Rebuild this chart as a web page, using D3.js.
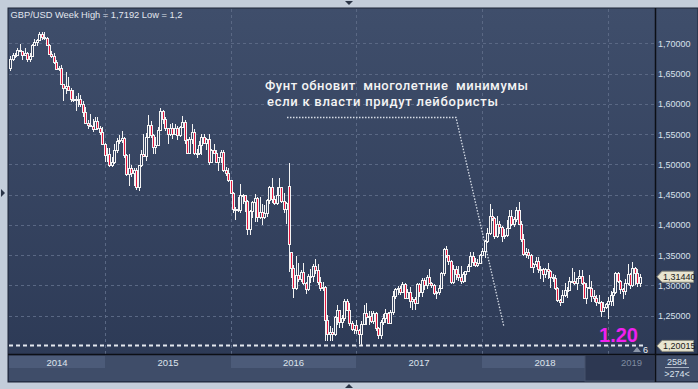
<!DOCTYPE html>
<html>
<head>
<meta charset="utf-8">
<script src="https://cdn.jsdelivr.net/npm/d3@7"></script>
<style>
  body { margin: 0; background: #c3cdda; }
  svg { display: block; }
</style>
</head>
<body>
<div id="chart"></div>
<script>
// GBP/USD weekly candles, Apr 2014 .. Apr 2019
const title = "GBP/USD Week High = 1,7192 Low = 1,2";
const firstWeek = new Date(2014, 3, 7);

const open = [
  1.6585,1.6745,1.6805,1.6810,1.6885,1.6865,1.6800,1.6835,1.6740,1.6795,
  1.6970,1.7015,1.7050,1.7155,1.7105,1.7090,1.6980,1.6830,1.6795,1.6695,
  1.6570,1.6595,1.6330,1.6265,1.6295,1.6225,1.6075,1.6085,1.6080,1.6085,
  1.5990,1.5865,1.5680,1.5655,1.5640,1.5580,1.5710,1.5600,1.5535,1.5335,
  1.5160,1.5165,1.4995,1.5035,1.5235,1.5390,1.5395,1.5435,1.5150,1.4845,
  1.4945,1.4860,1.4900,1.4620,1.4985,1.5170,1.5135,1.5460,1.5655,1.5490,
  1.5285,1.5325,1.5575,1.5885,1.5745,1.5595,1.5510,1.5595,1.5510,1.5605,
  1.5490,1.5620,1.5700,1.5410,1.5190,1.5425,1.5530,1.5195,1.5185,1.5315,
  1.5460,1.5345,1.5425,1.5040,1.5240,1.5190,1.5035,1.5115,1.5210,1.4900,
  1.4865,1.4735,1.4535,1.4255,1.4265,1.4250,1.4500,1.4495,1.4400,1.3925,
  1.4230,1.4375,1.4445,1.4125,1.4220,1.4135,1.4200,1.4410,1.4620,1.4425,
  1.4365,1.4500,1.4620,1.4400,1.4260,1.4650,1.3560,1.3295,1.2950,1.3165,
  1.3110,1.3230,1.3040,1.2945,1.3160,1.3155,1.3315,1.3260,1.3055,1.2955,
  1.2970,1.2430,1.2190,1.2235,1.2190,1.2480,1.2590,1.2390,1.2470,1.2745,
  1.2600,1.2375,1.2285,1.2345,1.2270,1.2190,1.2370,1.2550,1.2480,1.2490,
  1.2410,1.2545,1.2295,1.2180,1.2400,1.2470,1.2550,1.2385,1.2555,1.2825,
  1.2940,1.2960,1.2885,1.3030,1.2795,1.2885,1.2745,1.2780,1.2715,1.3030,
  1.2885,1.3095,1.3000,1.3135,1.3040,1.3010,1.2875,1.2885,1.2955,1.3205,
  1.3600,1.3500,1.3400,1.3065,1.3280,1.3185,1.3135,1.3080,1.3190,1.3235,
  1.3325,1.3480,1.3385,1.3340,1.3370,1.3505,1.3570,1.3740,1.3860,1.4155,
  1.4115,1.3820,1.4015,1.3965,1.3815,1.3830,1.3955,1.4140,1.4010,1.4090,
  1.4240,1.4010,1.3770,1.3525,1.3560,1.3505,1.3310,1.3355,1.3410,1.3270,
  1.3280,1.3190,1.3280,1.3235,1.3140,1.3115,1.2960,1.2760,1.2730,1.2840,
  1.2920,1.2930,1.3070,1.3075,1.3035,1.3120,1.3155,1.3045,1.2800,1.2975,
  1.2965,1.2820,1.2795,1.2725,1.2735,1.2585,1.2640,1.2690,1.2740,1.2840,
  1.2885,1.3200,1.3075,1.2940,1.2905,1.3045,1.3190,1.3010,1.3290,1.3200,
  1.3035
];

const high = [
  1.6790,1.6840,1.6845,1.6925,1.6996,1.6880,1.6925,1.6860,1.6840,1.6990,
  1.7065,1.7065,1.7180,1.7179,1.7192,1.7105,1.6990,1.6875,1.6835,1.6720,
  1.6630,1.6645,1.6335,1.6525,1.6440,1.6260,1.6225,1.6125,1.6185,1.6150,
  1.6050,1.5940,1.5740,1.5825,1.5745,1.5785,1.5785,1.5630,1.5620,1.5350,
  1.5270,1.5270,1.5115,1.5330,1.5430,1.5490,1.5550,1.5450,1.5175,1.5165,
  1.4990,1.4945,1.4945,1.4990,1.5235,1.5500,1.5520,1.5815,1.5710,1.5500,
  1.5445,1.5610,1.5930,1.5900,1.5790,1.5600,1.5675,1.5690,1.5675,1.5635,
  1.5635,1.5805,1.5735,1.5420,1.5450,1.5660,1.5590,1.5260,1.5385,1.5510,
  1.5510,1.5440,1.5510,1.5255,1.5335,1.5240,1.5130,1.5240,1.5240,1.4955,
  1.4945,1.4750,1.4540,1.4300,1.4460,1.4670,1.4510,1.4500,1.4410,1.4240,
  1.4400,1.4515,1.4460,1.4460,1.4350,1.4325,1.4435,1.4635,1.4770,1.4485,
  1.4630,1.4770,1.4630,1.4530,1.4375,1.5018,1.3560,1.3340,1.3480,1.3370,
  1.3260,1.3370,1.3060,1.3185,1.3275,1.3350,1.3445,1.3355,1.3140,1.3060,
  1.2985,1.2505,1.2330,1.2300,1.2495,1.2670,1.2600,1.2515,1.2775,1.2775,
  1.2705,1.2405,1.2335,1.2430,1.2285,1.2415,1.2675,1.2705,1.2580,1.2580,
  1.2570,1.2555,1.2310,1.2430,1.2525,1.2615,1.2555,1.2590,1.2905,1.2950,
  1.2990,1.2990,1.3050,1.3045,1.2940,1.2975,1.2815,1.2815,1.3035,1.3045,
  1.3115,1.3125,1.3165,1.3265,1.3055,1.3030,1.2905,1.3000,1.3215,1.3615,
  1.3655,1.3505,1.3420,1.3340,1.3320,1.3325,1.3320,1.3225,1.3245,1.3355,
  1.3550,1.3550,1.3460,1.3435,1.3525,1.3615,1.3745,1.3945,1.4345,1.4260,
  1.4130,1.4145,1.4070,1.3990,1.3930,1.4085,1.4245,1.4245,1.4135,1.4290,
  1.4377,1.4060,1.3845,1.3620,1.3610,1.3515,1.3365,1.3475,1.3475,1.3315,
  1.3295,1.3290,1.3365,1.3260,1.3185,1.3175,1.2980,1.2770,1.2930,1.3045,
  1.2975,1.3145,1.3295,1.3215,1.3125,1.3255,1.3260,1.3050,1.3045,1.3175,
  1.3075,1.2930,1.2835,1.2840,1.2740,1.2720,1.2705,1.2815,1.2915,1.2955,
  1.3215,1.3215,1.3085,1.2960,1.3110,1.3350,1.3210,1.3380,1.3305,1.3265,
  1.3195
];

const low = [
  1.6545,1.6700,1.6750,1.6790,1.6850,1.6725,1.6790,1.6695,1.6695,1.6770,
  1.6950,1.6960,1.7040,1.7060,1.7050,1.6955,1.6810,1.6760,1.6655,1.6560,
  1.6550,1.6325,1.6050,1.6160,1.6220,1.6030,1.6035,1.5875,1.5945,1.5950,
  1.5790,1.5665,1.5590,1.5625,1.5540,1.5560,1.5560,1.5485,1.5320,1.5035,
  1.5035,1.4950,1.4950,1.5010,1.5190,1.5335,1.5350,1.5100,1.4805,1.4635,
  1.4795,1.4635,1.4580,1.4565,1.4950,1.5130,1.5060,1.5440,1.5440,1.5170,
  1.5170,1.5310,1.5560,1.5670,1.5550,1.5330,1.5470,1.5420,1.5505,1.5410,
  1.5455,1.5600,1.5330,1.5165,1.5170,1.5330,1.5160,1.5110,1.5150,1.5160,
  1.5330,1.5240,1.4995,1.5030,1.5170,1.5030,1.4895,1.5025,1.4880,1.4805,
  1.4710,1.4505,1.4200,1.4080,1.4210,1.4190,1.4350,1.4220,1.3835,1.3840,
  1.4110,1.4055,1.4055,1.4095,1.4005,1.4095,1.4130,1.4350,1.4365,1.4330,
  1.4330,1.4470,1.4355,1.4195,1.4010,1.3229,1.3122,1.2798,1.2930,1.3055,
  1.3065,1.3005,1.2865,1.2915,1.3045,1.3055,1.3185,1.3000,1.2915,1.2915,
  1.2085,1.2090,1.2080,1.2080,1.2170,1.2345,1.2300,1.2300,1.2420,1.2580,
  1.2335,1.2250,1.2200,1.2200,1.2035,1.2002,1.2365,1.2345,1.2350,1.2385,
  1.2365,1.2250,1.2110,1.2110,1.2345,1.2375,1.2365,1.2365,1.2515,1.2775,
  1.2845,1.2845,1.2870,1.2775,1.2770,1.2635,1.2590,1.2590,1.2705,1.2810,
  1.2810,1.2930,1.2935,1.3025,1.2955,1.2835,1.2775,1.2850,1.2940,1.3150,
  1.3450,1.3335,1.3030,1.3025,1.3085,1.3080,1.3025,1.3040,1.3065,1.3215,
  1.3320,1.3320,1.3300,1.3305,1.3360,1.3490,1.3455,1.3705,1.3840,1.4070,
  1.3765,1.3780,1.3855,1.3710,1.3770,1.3805,1.3925,1.3980,1.3960,1.4055,
  1.4000,1.3710,1.3490,1.3450,1.3445,1.3305,1.3205,1.3305,1.3210,1.3100,
  1.3050,1.3125,1.3100,1.2955,1.3055,1.2920,1.2725,1.2660,1.2725,1.2815,
  1.2785,1.2925,1.3045,1.3010,1.2920,1.3100,1.3010,1.2775,1.2695,1.2935,
  1.2725,1.2725,1.2660,1.2705,1.2475,1.2575,1.2615,1.2438,1.2665,1.2665,
  1.2865,1.3035,1.2855,1.2775,1.2850,1.3005,1.2945,1.2970,1.3000,1.2980,
  1.2980
];

const close = [
  1.6745,1.6805,1.6810,1.6885,1.6865,1.6800,1.6835,1.6740,1.6795,1.6970,
  1.7015,1.7050,1.7155,1.7105,1.7090,1.6980,1.6830,1.6795,1.6695,1.6570,
  1.6595,1.6330,1.6265,1.6295,1.6225,1.6075,1.6085,1.6080,1.6085,1.5990,
  1.5865,1.5680,1.5655,1.5640,1.5580,1.5710,1.5600,1.5535,1.5335,1.5160,
  1.5165,1.4995,1.5035,1.5235,1.5390,1.5395,1.5435,1.5150,1.4845,1.4945,
  1.4860,1.4900,1.4620,1.4985,1.5170,1.5135,1.5460,1.5655,1.5490,1.5285,
  1.5325,1.5575,1.5885,1.5745,1.5595,1.5510,1.5595,1.5510,1.5605,1.5490,
  1.5620,1.5700,1.5410,1.5190,1.5425,1.5530,1.5195,1.5185,1.5315,1.5460,
  1.5345,1.5425,1.5040,1.5240,1.5190,1.5035,1.5115,1.5210,1.4900,1.4865,
  1.4735,1.4535,1.4255,1.4265,1.4250,1.4500,1.4495,1.4400,1.3925,1.4230,
  1.4375,1.4445,1.4125,1.4220,1.4135,1.4200,1.4410,1.4620,1.4425,1.4365,
  1.4500,1.4620,1.4400,1.4260,1.4360,1.3679,1.3295,1.2950,1.3165,1.3110,
  1.3230,1.3040,1.2945,1.3160,1.3155,1.3315,1.3260,1.3055,1.2955,1.2970,
  1.2430,1.2190,1.2235,1.2190,1.2480,1.2590,1.2390,1.2470,1.2745,1.2600,
  1.2375,1.2285,1.2345,1.2270,1.2190,1.2370,1.2550,1.2480,1.2490,1.2410,
  1.2545,1.2295,1.2180,1.2400,1.2470,1.2550,1.2385,1.2555,1.2825,1.2940,
  1.2960,1.2885,1.3030,1.2795,1.2885,1.2745,1.2780,1.2715,1.3030,1.2885,
  1.3095,1.3000,1.3135,1.3040,1.3010,1.2875,1.2885,1.2955,1.3205,1.3600,
  1.3500,1.3400,1.3065,1.3280,1.3185,1.3135,1.3080,1.3190,1.3235,1.3325,
  1.3480,1.3385,1.3340,1.3370,1.3505,1.3570,1.3740,1.3860,1.4155,1.4115,
  1.3820,1.4015,1.3965,1.3815,1.3830,1.3955,1.4140,1.4010,1.4090,1.4240,
  1.4010,1.3770,1.3525,1.3560,1.3505,1.3310,1.3355,1.3410,1.3270,1.3280,
  1.3190,1.3280,1.3235,1.3140,1.3115,1.2960,1.2760,1.2730,1.2840,1.2920,
  1.2930,1.3070,1.3075,1.3035,1.3120,1.3155,1.3045,1.2800,1.2975,1.2965,
  1.2820,1.2795,1.2725,1.2735,1.2585,1.2640,1.2690,1.2740,1.2840,1.2885,
  1.3200,1.3075,1.2940,1.2905,1.3045,1.3190,1.3010,1.3290,1.3200,1.3035,
  1.3144
];

const yTicks = [1.25, 1.30, 1.35, 1.40, 1.45, 1.50, 1.55, 1.60, 1.65, 1.70];
const lastPrice = 1.3144;
const lowLevel = 1.20015;
const lowLabel = "1.20";
const note = ["Фунт обновит  многолетние  минимумы", "если к власти придут лейбористы"];
const barsInfo = ["2584", ">274<"];

const W = 698, H = 389;
const plot = { left: 9, right: 655, top: 9, bottom: 354 };

const weeks = open.map((d, i) => d3.timeMonday.offset(firstWeek, i));
const candles = weeks.map((d, i) => ({ date: d, o: open[i], h: high[i], l: low[i], c: close[i] }));

const svg = d3.select("#chart").append("svg")
    .attr("width", W)
    .attr("height", H)
    .attr("font-family", "'Liberation Sans', Arial, sans-serif");

const defs = svg.append("defs");
const grad = defs.append("linearGradient").attr("id", "bg").attr("x1", 0).attr("x2", 0).attr("y1", 0).attr("y2", 1);
grad.append("stop").attr("offset", "0%").attr("stop-color", "#3f4e6b");
grad.append("stop").attr("offset", "100%").attr("stop-color", "#2c3955");

// frame + panels
svg.append("rect").attr("x", 8).attr("y", 8).attr("width", W - 8).attr("height", 374)
    .attr("fill", "url(#bg)").attr("stroke", "#1c2536");
svg.append("rect").attr("x", 9).attr("y", 355).attr("width", W - 9).attr("height", 26)
    .attr("fill", "#3f4d69");

// scales
const x = d3.scaleBand()
    .domain(weeks)
    .range([plot.left, plot.left + weeks.length * 2.421]);
const cx = d => x(d) + x.bandwidth() / 2;

const y = d3.scaleLinear()
    .domain([1.2, 1.7])
    .range([346, 43.3]);

// year boundaries: first week whose Wednesday falls in a new year
const yearStarts = weeks.filter((d, i) => i > 0 &&
    d3.timeDay.offset(d, 2).getFullYear() !== d3.timeDay.offset(weeks[i - 1], 2).getFullYear());
const edges = [plot.left, ...yearStarts.map(d => Math.round(cx(d))), plot.right];
const years = d3.range(edges.length - 1).map(i => String(weeks[0].getFullYear() + i));

// year bands on the time axis
const axisG = svg.append("g");
years.forEach((yr, i) => {
  if (i % 2 === 0 && i < years.length - 1) {
    const x1 = i === 4 ? 585 : edges[i + 1];
    axisG.append("rect").attr("x", edges[i]).attr("y", 356).attr("width", x1 - edges[i]).attr("height", 12)
        .attr("fill", "#4c5b79");
  }
});
axisG.append("rect").attr("x", 585).attr("y", 355).attr("width", plot.right - 585).attr("height", 26)
    .attr("fill", "#2d3852").attr("stroke", "#46536c");
axisG.selectAll("text.year")
  .data(years)
  .join("text")
    .attr("class", "year")
    .attr("x", (d, i) => (edges[i] + edges[i + 1]) / 2)
    .attr("y", 365.5)
    .attr("text-anchor", "middle")
    .attr("font-size", "9.5px")
    .attr("fill", (d, i) => i === years.length - 1 ? "#7f8ba0" : "#dde3ec")
    .text(d => d);

// grid
const grid = svg.append("g")
    .attr("stroke", "#5a6884")
    .attr("stroke-dasharray", "3,3")
    .attr("shape-rendering", "crispEdges");
grid.selectAll("line.h")
  .data(yTicks)
  .join("line")
    .attr("class", "h")
    .attr("x1", plot.left).attr("x2", plot.right)
    .attr("y1", d => Math.round(y(d)) + 0.5).attr("y2", d => Math.round(y(d)) + 0.5);
grid.selectAll("line.v")
  .data(edges.slice(1, -1))
  .join("line")
    .attr("class", "v")
    .attr("x1", d => d + 0.5).attr("x2", d => d + 0.5)
    .attr("y1", plot.top).attr("y2", plot.bottom);

// low level dashed line
svg.append("line")
    .attr("x1", plot.left).attr("x2", 643)
    .attr("y1", Math.round(y(lowLevel)) - 0.5).attr("y2", Math.round(y(lowLevel)) - 0.5)
    .attr("stroke", "#e4e8ef")
    .attr("stroke-width", 2)
    .attr("stroke-dasharray", "4,3");

// annotation
svg.append("polyline")
    .attr("points", "287,117.5 456,117.5 504,327")
    .attr("fill", "none")
    .attr("stroke", "#d6dce6")
    .attr("stroke-width", 1.3)
    .attr("stroke-dasharray", "1.5,1.5");

// candles
const cg = svg.append("g").attr("shape-rendering", "crispEdges");
const candle = cg.selectAll("g")
  .data(candles)
  .join("g")
    .attr("transform", d => `translate(${Math.round(cx(d.date)) + 0.5},0)`);

candle.each(function(d) {
  const g = d3.select(this);
  const top = Math.round(y(Math.max(d.o, d.c)));
  let bot = Math.round(y(Math.min(d.o, d.c)));
  if (bot - top < 1) bot = top + 1;
  g.append("line").attr("y1", Math.round(y(d.h))).attr("y2", top).attr("stroke", "#f4f4f4");
  g.append("line").attr("y1", bot).attr("y2", Math.round(y(d.l))).attr("stroke", "#f4f4f4");
  g.append("rect")
      .attr("x", -1).attr("y", top + 0.5)
      .attr("width", 2).attr("height", bot - top)
      .attr("fill", d.c < d.o ? "#e3173e" : "#34425f")
      .attr("stroke", "#f4f4f4");
});

// title and note
svg.append("text")
    .attr("x", 10.5).attr("y", 18.3)
    .attr("font-size", "9.3px")
    .attr("fill", "#e2e7ef")
    .text(title);

svg.selectAll("text.note")
  .data(note)
  .join("text")
    .attr("class", "note")
    .attr("x", (d, i) => i === 0 ? 265 : 267)
    .attr("y", (d, i) => i === 0 ? 90 : 105.5)
    .attr("font-family", "Roboto, 'DejaVu Sans', sans-serif")
    .attr("font-weight", 500)
    .attr("font-size", "13px")
    .attr("fill", "#f4f4f4")
    .attr("textLength", (d, i) => i === 0 ? 263 : 231)
    .attr("lengthAdjust", "spacing")
    .style("white-space", "pre")
    .text(d => d);

svg.append("text")
    .attr("x", 638).attr("y", 341.7)
    .attr("text-anchor", "end")
    .attr("font-weight", "bold")
    .attr("font-size", "20px")
    .attr("fill", "#f020ee")
    .text(lowLabel);

// marker "6"
svg.append("path").attr("d", "M633,352 L637,347 L641,352 Z").attr("fill", "#8c97aa");
svg.append("text").attr("x", 643).attr("y", 353).attr("font-size", "9px").attr("fill", "#eef1f5").text("6");

// separators
svg.append("line").attr("x1", plot.right + 0.5).attr("x2", plot.right + 0.5).attr("y1", 8).attr("y2", 382)
    .attr("stroke", "#0c0f16").attr("stroke-width", 1.5);
svg.append("line").attr("x1", 8).attr("x2", W).attr("y1", plot.bottom + 0.5).attr("y2", plot.bottom + 0.5)
    .attr("stroke", "#0c0f16").attr("stroke-width", 1.5);

// price axis
const fmt = v => d3.format(".5f")(v).replace(".", ",");
const yAxis = d3.axisRight(y).tickValues(yTicks).tickSize(0).tickPadding(0).tickFormat(fmt);
svg.append("g")
    .attr("transform", `translate(${plot.right + 3},0)`)
    .call(yAxis)
    .call(g => g.select(".domain").remove())
    .call(g => g.selectAll("text")
        .attr("font-family", "'Liberation Sans', Arial, sans-serif")
        .attr("font-size", "9px")
        .attr("fill", "#d9e1ec"));

// price tags
function tag(v) {
  const cy = y(v);
  const g = svg.append("g").attr("transform", `translate(0,${cy})`);
  g.append("path")
      .attr("d", "M657,0 L662,-5.5 L693.5,-5.5 L693.5,5.5 L662,5.5 Z")
      .attr("fill", "#e8e5d0")
      .attr("stroke", "#8f8e80");
  g.append("text")
      .attr("x", 663).attr("y", 3.3)
      .attr("font-size", "9px")
      .attr("fill", "#1a1a1a")
      .text(fmt(v));
}
tag(lastPrice);
tag(lowLevel);

// bar counters
svg.selectAll("text.info")
  .data(barsInfo)
  .join("text")
    .attr("class", "info")
    .attr("x", 677).attr("y", (d, i) => i === 0 ? 365 : 377)
    .attr("text-anchor", "middle")
    .attr("font-size", "9px")
    .attr("fill", "#dde3ec")
    .text(d => d);
svg.append("line").attr("x1", 665).attr("x2", 689).attr("y1", 367.5).attr("y2", 367.5)
    .attr("stroke", "#aab4c4");

// scroll markers on frame
svg.append("path").attr("d", "M345,1 L353,1 L349,5 Z").attr("fill", "#2a3446");
svg.append("path").attr("d", "M345,388 L353,388 L349,384 Z").attr("fill", "#2a3446");
svg.append("path").attr("d", "M1,189 L1,197 L5,193 Z").attr("fill", "#2a3446");
</script>
</body>
</html>
